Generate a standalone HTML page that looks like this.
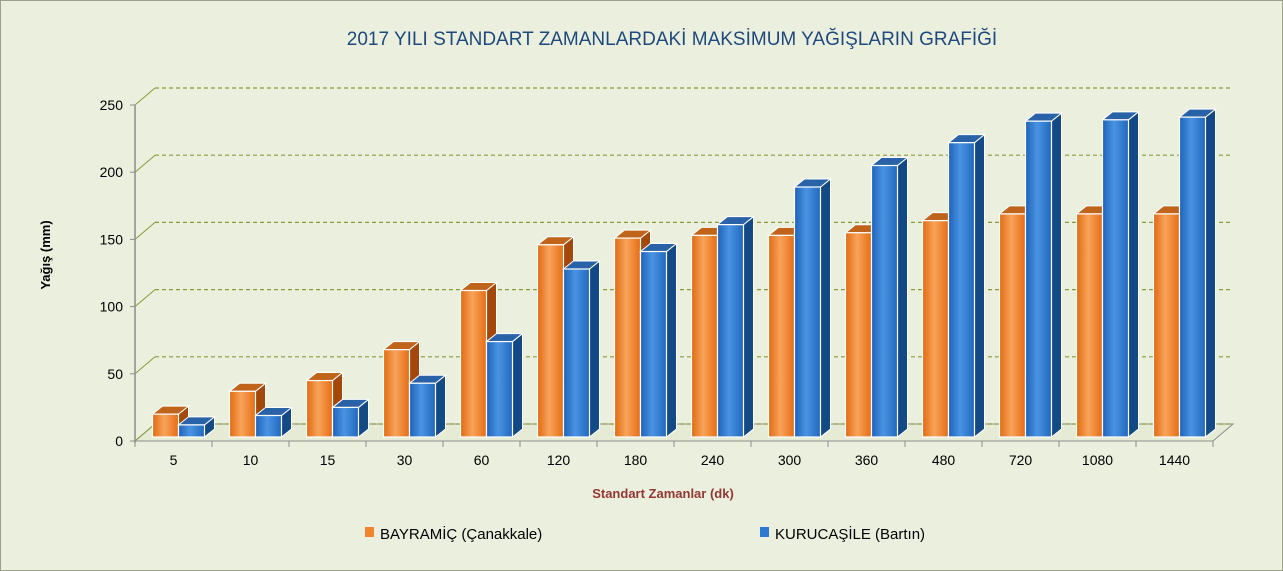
<!DOCTYPE html>
<html><head><meta charset="utf-8"><style>
body{margin:0;background:#fff;}
svg{display:block;font-family:"Liberation Sans",sans-serif;}
</style></head><body>
<svg id="c" width="1283" height="571" viewBox="0 0 1283 571">
<defs>
<linearGradient id="go" x1="0" x2="1"><stop offset="0" stop-color="#e06a12"/><stop offset="0.45" stop-color="#f8a35a"/><stop offset="1" stop-color="#e46d14"/></linearGradient>
<linearGradient id="gb" x1="0" x2="1"><stop offset="0" stop-color="#1e62b8"/><stop offset="0.45" stop-color="#4a93e2"/><stop offset="1" stop-color="#2168bd"/></linearGradient>
</defs>
<rect x="0.5" y="0.5" width="1282" height="570" fill="#ebf0de" stroke="#9aa08a"/>
<text x="672" y="45" text-anchor="middle" font-size="19" fill="#1f497d">2017 YILI STANDART ZAMANLARDAKİ MAKSİMUM YAĞIŞLARIN GRAFİĞİ</text>
<text transform="translate(50,255) rotate(-90)" text-anchor="middle" font-size="13" font-weight="bold" fill="#000">Yağış (mm)</text>
<text x="663" y="498" text-anchor="middle" font-size="13" font-weight="bold" fill="#943634">Standart Zamanlar (dk)</text>
<g>
<rect x="365" y="527" width="9" height="10" fill="#f0852e"/>
<text x="380" y="539" font-size="15" fill="#000">BAYRAMİÇ (Çanakkale)</text>
<rect x="760" y="527" width="9" height="10" fill="#2f78d2"/>
<text x="775" y="539" font-size="15" fill="#000">KURUCAŞİLE (Bartın)</text>
</g>
<g id="axes"></g>
<g id="bars"></g>
</svg>
<script>
const categories=["5","10","15","30","60","120","180","240","300","360","480","720","1080","1440"];
const bayramic=[17,34,42,65,109,143,148,150,150,152,161,166,166,166];
const kurucasile=[9,16,22,40,71,125,138,158,186,202,219,235,236,238];
const yTicks=[0,50,100,150,200,250];
const NS="http://www.w3.org/2000/svg";
const axes=document.getElementById("axes"),bars=document.getElementById("bars");
const x0=135,x1=1213,y0=441,ppu=336/250,DX=20,DY=-17;
const yF=v=>y0-v*ppu;
const step=(x1-x0)/categories.length;
function mk(p,tag,a){const e=document.createElementNS(NS,tag);for(const k in a)e.setAttribute(k,a[k]);p.appendChild(e);return e;}
// floor
const fl=mk(axes,"polygon",{points:`${x0},${y0} ${x1},${y0} ${x1+DX},${y0+DY} ${x0+DX},${y0+DY}`,fill:"#e6ebd6",stroke:"#8c8c8c"});


yTicks.forEach(t=>{
 const y=yF(t);
 const g=mk(axes,"line",{x1:x0+DX,y1:y+DY,x2:x1+DX,y2:y+DY,stroke:"#8a9a3a","stroke-dasharray":"4,3","stroke-width":1.2});
 
 
 const d=mk(axes,"line",{x1:x0,y1:y,x2:x0+DX,y2:y+DY,stroke:"#8a9a3a","stroke-width":1});
 
 
 const tk=mk(axes,"line",{x1:x0-5,y1:y,x2:x0,y2:y,stroke:"#8c8c8c"});
 
 
 const tx=mk(axes,"text",{x:x0-12,y:y+5,"text-anchor":"end","font-size":14,fill:"#000"});
 tx.textContent=t;
 
 
});
const ya=mk(axes,"line",{x1:x0,y1:yF(250),x2:x0,y2:y0+2,stroke:"#8c8c8c","stroke-width":1.5});


categories.forEach((c,i)=>{
 const xt=x0+i*step;
 const tk=mk(axes,"line",{x1:xt,y1:y0,x2:xt,y2:y0+6,stroke:"#8c8c8c"});
 
 
 const tx=mk(axes,"text",{x:xt+step/2,y:y0+24,"text-anchor":"middle","font-size":14,fill:"#000"});
 tx.textContent=c;
 
 
});
const tk2=mk(axes,"line",{x1:x1,y1:y0,x2:x1,y2:y0+6,stroke:"#8c8c8c"});


const bw=26,bdx=10,bdy=-8,base=437,bp=336/250;
function bar(x,v,fill,top,side,name){
 const yt=base-v*bp;
 const g=mk(bars,"g",{});
 
 
 mk(g,"polygon",{points:`${x+bw},${yt} ${x+bw+bdx},${yt+bdy} ${x+bw+bdx},${base+bdy} ${x+bw},${base}`,fill:side,stroke:"#fff","stroke-width":1});
 mk(g,"polygon",{points:`${x},${yt} ${x+bdx},${yt+bdy} ${x+bw+bdx},${yt+bdy} ${x+bw},${yt}`,fill:top,stroke:"#fff","stroke-width":1});
 mk(g,"rect",{x:x,y:yt,width:bw,height:base-yt,fill:fill,stroke:"#fff","stroke-width":1.2});
}
categories.forEach((c,i)=>{
 const cx=x0+i*step+step/2+5;
 bar(cx-bw,bayramic[i],"url(#go)","#c0641c","#a3470b","bar-bayramic-"+c);
 bar(cx,kurucasile[i],"url(#gb)","#2a62a8","#134a86","bar-kurucasile-"+c);
});
</script>
</body></html>
